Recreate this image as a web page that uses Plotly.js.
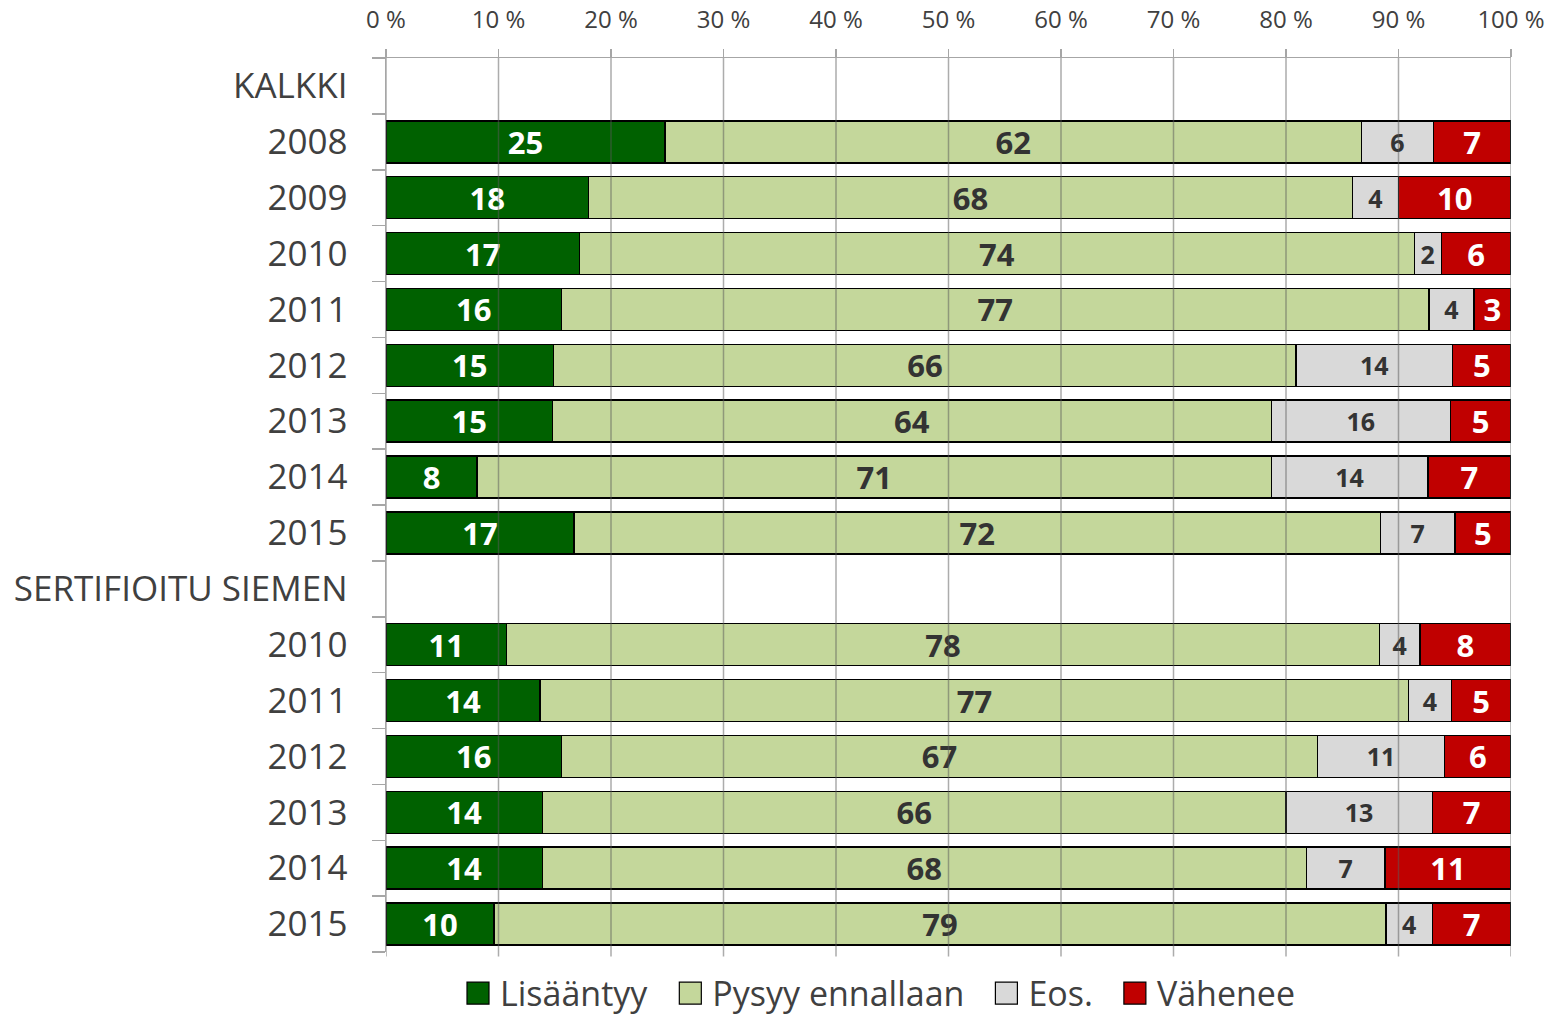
<!DOCTYPE html>
<html>
<head>
<meta charset="utf-8">
<script src="https://cdn.plot.ly/plotly-3.0.1.min.js"></script>
<style>
  html, body { margin: 0; padding: 0; background: #ffffff; }
  #chart { width: 1549px; height: 1019px; }
</style>
</head>
<body>
<div id="chart"></div>
<script>
// Row identifiers (top to bottom) and their displayed labels
const rowIds = ['KALKKI', 'K2008', 'K2009', 'K2010', 'K2011', 'K2012', 'K2013', 'K2014', 'K2015',
                'SERTIFIOITU SIEMEN', 'S2010', 'S2011', 'S2012', 'S2013', 'S2014', 'S2015'];
const rowLabels = ['KALKKI', '2008', '2009', '2010', '2011', '2012', '2013', '2014', '2015',
                   'SERTIFIOITU SIEMEN', '2010', '2011', '2012', '2013', '2014', '2015'];
// Rows that carry bars
const barRows = ['K2008', 'K2009', 'K2010', 'K2011', 'K2012', 'K2013', 'K2014', 'K2015',
                 'S2010', 'S2011', 'S2012', 'S2013', 'S2014', 'S2015'];

// Series values (%)
const lisaantyy = [24.8, 18.0, 17.2, 15.6, 14.9, 14.8, 8.1, 16.7, 10.7, 13.7, 15.6, 13.9, 13.9, 9.6];
const pysyy     = [61.9, 67.9, 74.2, 77.1, 66.0, 63.9, 70.6, 71.7, 77.6, 77.2, 67.2, 66.1, 67.9, 79.3];
const eos       = [6.4, 4.1, 2.4, 4.0, 13.9, 15.9, 13.9, 6.6, 3.6, 3.8, 11.3, 13.0, 7.0, 4.1];
const vahenee   = [6.9, 10.0, 6.2, 3.3, 5.2, 5.4, 7.4, 5.0, 8.1, 5.3, 5.9, 7.0, 11.2, 7.0];

const seriesNames = ['Lisääntyy', 'Pysyy ennallaan', 'Eos.', 'Vähenee'];
const xTicks = [0, 10, 20, 30, 40, 50, 60, 70, 80, 90, 100];
const xTickText = ['0 %', '10 %', '20 %', '30 %', '40 %', '50 %', '60 %', '70 %', '80 %', '90 %', '100 %'];

const FONT = 'Open Sans, Noto Sans, sans-serif';
const TXT = '#404040';

function barTrace(name, values, color, textColor, textSize) {
  return {
    type: 'bar',
    orientation: 'h',
    name: name,
    y: barRows,
    x: values,
    marker: { color: color, line: { color: '#000000', width: 1.5 } },
    texttemplate: '%{x:.0f}',
    textposition: 'inside',
    insidetextanchor: 'middle',
    constraintext: 'none',
    textangle: 0,
    insidetextfont: { family: FONT, size: textSize, color: textColor, weight: 700 },
    hoverinfo: 'skip'
  };
}

const data = [
  barTrace(seriesNames[0], lisaantyy, '#006100', '#ffffff', 31),
  barTrace(seriesNames[1], pysyy, '#c4d79b', '#333333', 31),
  barTrace(seriesNames[2], eos, '#d9d9d9', '#333333', 25),
  barTrace(seriesNames[3], vahenee, '#c00000', '#ffffff', 31)
];

// Gridlines drawn above the bars (as in the original), at the tick values
const gridShapes = xTicks.map(v => ({
  type: 'line', xref: 'x', yref: 'paper',
  x0: v, x1: v, y0: -0.005, y1: 1,
  line: { color: 'rgba(90,90,90,0.5)', width: 1.5 },
  layer: 'above'
}));

const layout = {
  width: 1549,
  height: 1019,
  paper_bgcolor: '#ffffff',
  plot_bgcolor: '#ffffff',
  barmode: 'stack',
  bargap: 0.25,
  showlegend: true,
  margin: { l: 386, r: 38, t: 58, b: 67, autoexpand: false },
  font: { family: FONT, color: TXT },
  xaxis: {
    side: 'top',
    range: [0, 100],
    autorange: false,
    tickmode: 'array',
    tickvals: xTicks,
    ticktext: xTickText,
    showgrid: false,
    zeroline: false,
    showline: true,
    linecolor: '#a6a6a6',
    linewidth: 1.5,
    ticks: 'outside',
    ticklen: 8,
    tickwidth: 1.5,
    tickcolor: '#a6a6a6',
    ticklabelstandoff: 11,
    tickfont: { family: FONT, size: 24, color: TXT },
    fixedrange: true
  },
  yaxis: {
    type: 'category',
    categoryorder: 'array',
    categoryarray: rowIds,
    range: [15.5, -0.5],
    autorange: false,
    tickmode: 'array',
    tickvals: rowIds,
    ticktext: rowLabels,
    tickson: 'boundaries',
    ticks: 'outside',
    ticklen: 13,
    tickwidth: 1.5,
    tickcolor: '#a6a6a6',
    showline: true,
    linecolor: '#a6a6a6',
    linewidth: 1.5,
    showgrid: false,
    zeroline: false,
    ticklabelstandoff: 30,
    tickfont: { family: FONT, size: 35, color: TXT },
    fixedrange: true
  },
  legend: {
    orientation: 'h',
    x: 0.065,
    xanchor: 'left',
    y: -0.014,
    yanchor: 'top',
    font: { family: FONT, size: 34, color: TXT },
    itemclick: false,
    itemdoubleclick: false,
    traceorder: 'normal'
  },
  shapes: gridShapes
};

// Reference legend geometry: first swatch left edge, swatch size, gaps
const LEG_START = 467, SWATCH = 22, SW_TEXT_GAP = 11, ITEM_GAP = 31;

Plotly.newPlot('chart', data, layout, { staticPlot: true, displayModeBar: false }).then(function (gd) {
  const legend = gd.querySelector('.legend');
  if (!legend) return;
  legend.querySelectorAll('[clip-path]').forEach(el => el.removeAttribute('clip-path'));
  const items = Array.from(legend.querySelectorAll('g.traces'));
  let nextLeft = LEG_START;
  items.forEach(function (g) {
    const path = g.querySelector('.legendpoints path');
    const text = g.querySelector('text.legendtext');
    if (!path || !text) return;
    const s = SWATCH / 12;
    path.setAttribute('transform', 'scale(' + s + ')');
    path.style.strokeWidth = (1.2 / s) + 'px';
    path.style.stroke = '#000';
    // align the text just after the swatch
    let sq = path.getBoundingClientRect();
    let tr = text.getBoundingClientRect();
    const dxText = (sq.right + SW_TEXT_GAP) - tr.left;
    text.setAttribute('x', parseFloat(text.getAttribute('x') || 0) + dxText);
    // move the whole item so the swatch starts where it should
    const m = /translate\(([-\d.]+)[ ,]+([-\d.]+)\)/.exec(g.getAttribute('transform') || '');
    const gx = m ? parseFloat(m[1]) : 0, gy = m ? parseFloat(m[2]) : 0;
    sq = path.getBoundingClientRect();
    const shift = nextLeft - sq.left;
    g.setAttribute('transform', 'translate(' + (gx + shift) + ',' + gy + ')');
    tr = text.getBoundingClientRect();
    nextLeft = tr.right + ITEM_GAP;
  });
  // widen the legend background to cover the repositioned items
  const bg = legend.querySelector('rect.bg');
  if (bg) {
    const lr = legend.getBoundingClientRect();
    bg.setAttribute('width', Math.max(parseFloat(bg.getAttribute('width') || 0), nextLeft - lr.left));
  }
});
</script>
</body>
</html>
